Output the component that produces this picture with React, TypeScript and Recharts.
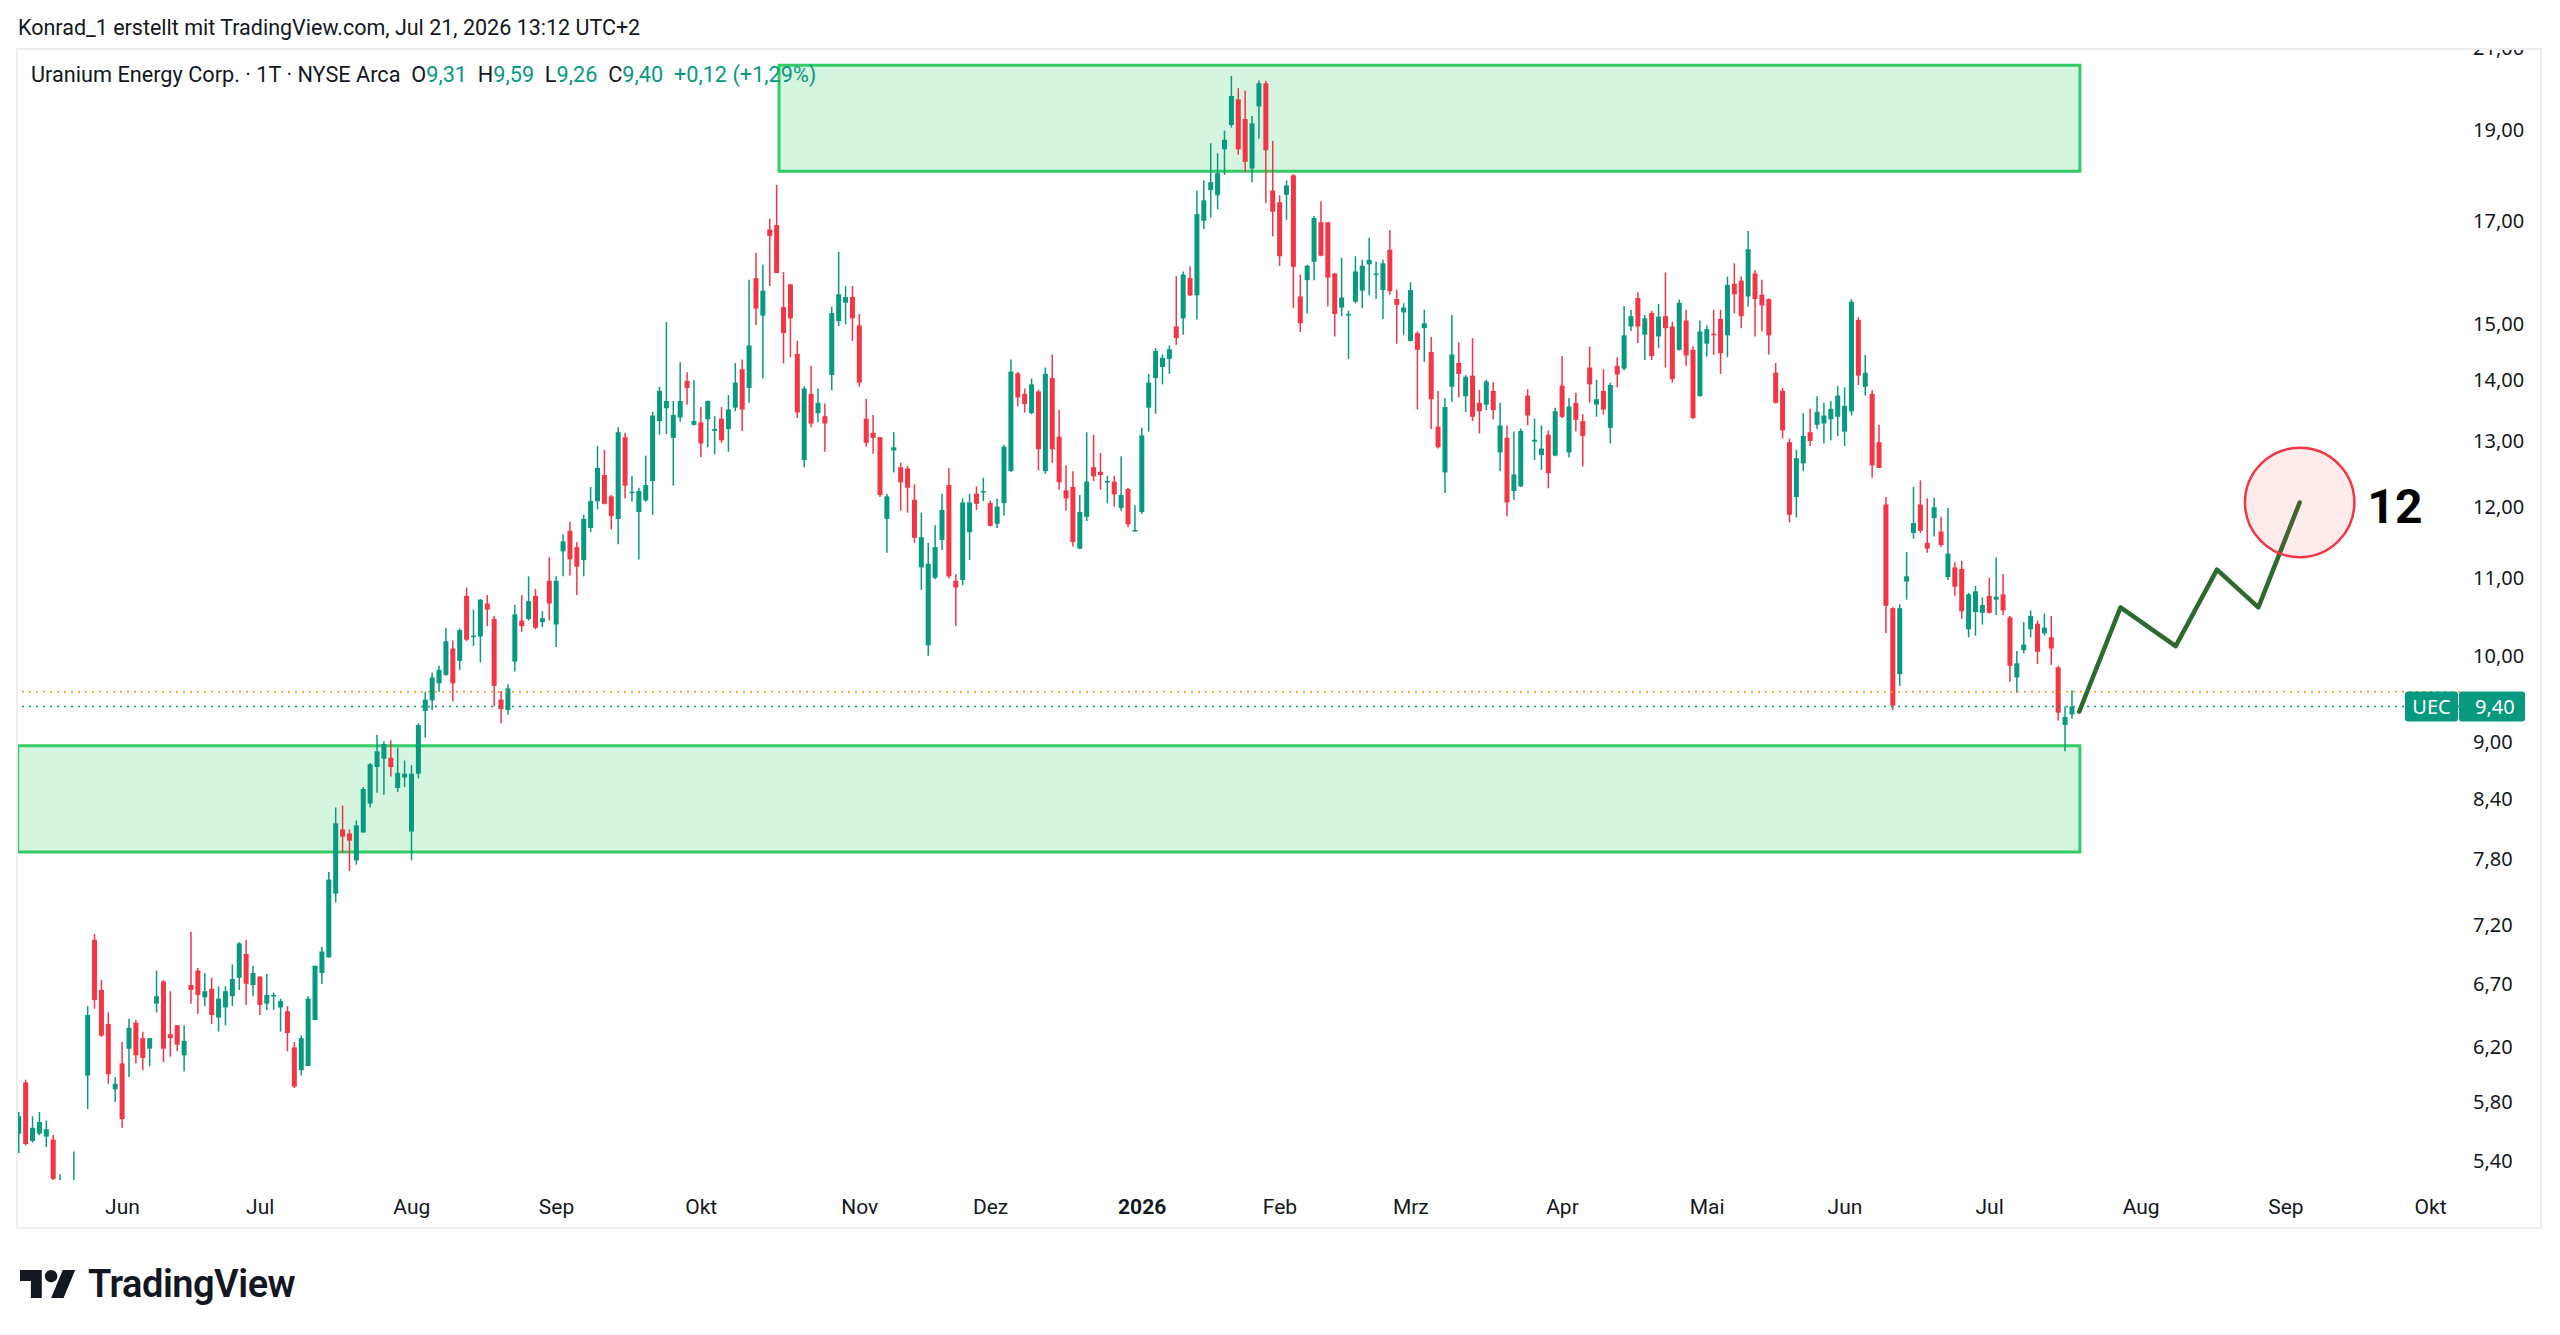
import {
  ComposedChart,
  XAxis,
  YAxis,
  Bar,
  Line,
  ReferenceArea,
  ReferenceLine,
  ReferenceDot,
} from "recharts";

// Uranium Energy Corp. (UEC), daily candles, first bar = index -15 (index 0 = first June 2025 session)
const FIRST_BAR = -15;

const OPEN = [
  5.58, 5.94, 5.53, 5.58, 5.56, 5.54, 5.15, 5.2, 5.1, 5.22,
  5.99, 7.07, 6.65, 6.38, 5.89, 6.08, 6.19, 6.39, 6.27, 6.19,
  6.54, 6.72, 6.3, 6.37, 6.14, 6.69, 6.81, 6.59, 6.66, 6.43,
  6.51, 6.6, 6.75, 6.95, 6.69, 6.76, 6.54, 6.6, 6.51, 6.48,
  6.2, 6.03, 6.06, 6.41, 6.79, 6.92, 7.48, 8.09, 8.05, 7.79,
  8.06, 8.35, 8.73, 8.82, 8.83, 8.51, 8.62, 8.07, 8.66, 9.35,
  9.47, 9.67, 9.77, 10.09, 9.94, 10.76, 10.24, 10.24, 10.66, 10.46,
  9.48, 9.36, 9.93, 10.44, 10.46, 10.76, 10.42, 10.96, 10.39, 11.36,
  11.65, 11.42, 11.24, 11.69, 12.08, 12.47, 12.15, 11.82, 13.06, 12.2,
  11.92, 12.09, 12.38, 13.32, 13.53, 13.05, 13.38, 13.99, 13.26, 13.3,
  13.35, 13.16, 13.36, 13.19, 13.54, 14.19, 13.87, 15.86, 15.15, 16.83,
  16.92, 15.31, 15.74, 14.46, 12.7, 13.77, 13.45, 13.4, 14.09, 15.05,
  15.39, 15.5, 14.97, 13.36, 13.13, 13.06, 11.82, 12.85, 12.59, 12.57,
  12.1, 11.14, 10.13, 11.0, 11.52, 12.32, 10.96, 10.97, 11.63, 12.19,
  12.21, 12.05, 11.75, 12.05, 12.53, 14.12, 13.77, 13.45, 13.81, 12.53,
  14.04, 13.07, 12.24, 12.29, 11.4, 11.85, 12.59, 12.52, 12.36, 12.37,
  11.98, 12.26, 11.65, 11.92, 13.54, 14.04, 14.23, 14.37, 14.95, 15.1,
  15.86, 15.53, 17.01, 17.66, 17.55, 18.56, 19.12, 19.73, 19.26, 18.13,
  19.56, 20.12, 17.65, 17.4, 17.56, 17.98, 15.51, 15.82, 16.18, 16.98,
  16.98, 15.95, 15.3, 15.17, 15.41, 15.62, 16.13, 15.94, 15.63, 16.42,
  15.46, 15.21, 14.69, 14.83, 14.92, 14.49, 13.23, 12.51, 13.89, 14.3,
  13.73, 14.08, 13.62, 13.59, 13.82, 12.82, 13.05, 12.23, 12.3, 13.74,
  12.99, 12.78, 13.1, 12.77, 13.91, 12.82, 13.62, 13.32, 14.22, 13.59,
  13.82, 13.21, 14.25, 14.2, 14.95, 15.48, 14.8, 15.2, 14.77, 15.14,
  14.95, 14.53, 15.06, 14.53, 13.73, 14.64, 14.82, 15.09, 14.79, 15.75,
  15.81, 15.51, 15.95, 15.54, 15.46, 14.13, 13.82, 12.98, 12.14, 12.65,
  13.14, 13.26, 13.28, 13.35, 13.39, 13.15, 13.48, 15.07, 13.89, 13.77,
  12.98, 12.03, 10.6, 9.78, 10.95, 11.62, 12.03, 11.48, 11.83, 11.64,
  11.01, 11.14, 11.12, 10.33, 10.55, 10.54, 10.76, 10.71, 10.78, 10.48,
  9.74, 10.07, 10.33, 10.4, 10.28, 10.23, 9.86, 9.19, 9.31,
];

const HIGH = [
  5.73, 5.96, 5.7, 5.73, 5.67, 5.57, 5.31, 5.25, 5.46, 5.26,
  6.52, 7.12, 6.73, 6.47, 5.98, 6.24, 6.42, 6.41, 6.32, 6.27,
  6.81, 6.73, 6.64, 6.37, 6.37, 7.14, 6.83, 6.79, 6.75, 6.68,
  6.68, 6.86, 7.05, 7.07, 6.85, 6.76, 6.78, 6.63, 6.58, 6.52,
  6.24, 6.29, 6.6, 6.85, 7.01, 7.68, 8.31, 8.33, 8.09, 8.18,
  8.52, 8.77, 9.08, 9.01, 9.02, 8.94, 8.8, 8.75, 9.21, 9.57,
  9.8, 9.88, 10.35, 10.19, 10.34, 10.87, 10.58, 10.72, 10.77, 10.5,
  9.58, 9.66, 10.64, 10.77, 11.02, 10.85, 10.56, 11.28, 11.02, 11.6,
  11.78, 11.49, 11.88, 12.29, 12.92, 12.86, 12.17, 13.22, 13.13, 12.46,
  12.28, 12.77, 13.47, 13.89, 15.03, 13.65, 14.31, 14.14, 14.0, 13.55,
  13.66, 13.4, 13.55, 13.75, 14.3, 14.36, 15.83, 16.36, 16.12, 17.05,
  17.77, 15.98, 15.75, 14.69, 13.9, 14.25, 13.86, 13.61, 15.32, 16.38,
  15.71, 15.71, 15.18, 13.69, 13.42, 13.06, 12.19, 13.14, 12.66, 12.61,
  12.33, 11.91, 11.48, 11.73, 12.19, 12.58, 11.05, 12.12, 12.19, 12.3,
  12.43, 12.09, 12.12, 12.94, 14.36, 14.14, 13.86, 14.03, 13.84, 14.22,
  14.45, 13.5, 12.62, 12.53, 12.17, 13.14, 13.1, 12.81, 12.46, 12.46,
  12.76, 12.28, 12.02, 13.21, 14.11, 14.56, 14.45, 14.61, 15.9, 15.99,
  16.09, 17.65, 17.87, 18.7, 18.47, 18.99, 20.3, 20.0, 19.94, 19.33,
  20.19, 20.18, 18.75, 17.55, 17.87, 18.01, 15.93, 16.12, 17.11, 17.42,
  16.98, 15.96, 16.26, 15.24, 16.29, 16.22, 16.66, 16.18, 16.22, 16.82,
  15.64, 15.38, 15.78, 14.86, 15.26, 14.76, 13.82, 13.7, 15.16, 14.66,
  14.09, 14.74, 13.84, 14.01, 13.97, 13.62, 13.25, 13.15, 13.2, 13.85,
  13.36, 13.25, 13.17, 13.54, 14.42, 13.7, 13.79, 13.43, 14.59, 14.01,
  14.19, 13.96, 14.4, 15.33, 15.26, 15.59, 15.16, 15.24, 15.37, 15.97,
  15.04, 15.45, 15.26, 14.59, 15.06, 14.97, 15.26, 15.26, 15.89, 16.15,
  15.89, 16.8, 16.02, 15.83, 15.47, 14.3, 13.87, 13.04, 12.86, 13.45,
  13.52, 13.73, 13.62, 13.65, 13.9, 13.88, 15.46, 15.12, 14.44, 13.83,
  13.26, 12.14, 10.61, 10.65, 11.35, 12.29, 12.39, 12.12, 12.13, 11.85,
  11.98, 11.21, 11.23, 10.8, 10.89, 10.74, 11.0, 11.28, 11.05, 10.5,
  10.06, 10.42, 10.57, 10.44, 10.53, 10.5, 9.88, 9.4, 9.59,
];

const LOW = [
  5.45, 5.5, 5.52, 5.57, 5.49, 5.27, 5.08, 5.05, 5.05, 5.1,
  5.75, 6.5, 6.28, 5.93, 5.8, 5.62, 5.98, 6.08, 6.03, 6.06,
  6.47, 6.09, 6.13, 6.17, 6.02, 6.54, 6.46, 6.52, 6.38, 6.32,
  6.37, 6.52, 6.65, 6.53, 6.6, 6.45, 6.49, 6.49, 6.32, 6.17,
  5.9, 5.99, 6.06, 6.41, 6.7, 6.92, 7.4, 7.86, 7.69, 7.75,
  8.06, 8.31, 8.46, 8.44, 8.63, 8.47, 8.52, 7.79, 8.61, 9.05,
  9.36, 9.57, 9.76, 9.46, 9.83, 10.18, 10.12, 9.92, 10.37, 9.4,
  9.21, 9.31, 9.81, 10.3, 10.44, 10.33, 10.36, 10.44, 10.11, 11.02,
  11.03, 10.77, 11.02, 11.63, 11.96, 12.03, 11.67, 11.46, 12.12, 12.07,
  11.25, 12.07, 11.88, 13.1, 13.11, 12.31, 13.31, 13.59, 13.25, 12.75,
  12.9, 12.79, 12.97, 12.83, 13.48, 13.16, 13.62, 14.98, 14.03, 15.71,
  15.96, 14.29, 14.4, 13.37, 12.59, 13.22, 13.3, 12.83, 13.83, 14.96,
  14.99, 14.69, 13.89, 12.91, 12.8, 12.14, 11.34, 12.51, 11.94, 11.91,
  11.48, 10.84, 10.0, 10.98, 11.38, 10.99, 10.37, 10.9, 11.24, 11.95,
  12.08, 11.71, 11.69, 11.87, 12.52, 13.56, 13.46, 13.43, 12.54, 12.49,
  12.66, 12.25, 11.94, 11.43, 11.39, 11.79, 12.38, 12.25, 12.05, 12.0,
  11.93, 11.7, 11.64, 11.89, 13.15, 13.44, 13.93, 14.11, 14.62, 14.8,
  15.52, 15.08, 16.84, 17.08, 17.25, 17.99, 19.06, 18.44, 18.05, 17.83,
  18.8, 17.38, 16.69, 16.1, 17.03, 15.29, 14.85, 15.19, 15.82, 16.29,
  15.32, 14.77, 15.14, 14.37, 15.38, 15.29, 15.53, 15.46, 15.09, 15.54,
  14.64, 14.8, 14.68, 13.51, 14.32, 13.19, 12.88, 12.2, 13.64, 13.71,
  13.47, 13.32, 13.12, 13.5, 13.35, 12.53, 11.86, 12.1, 12.29, 13.25,
  12.7, 12.55, 12.27, 12.76, 13.37, 12.74, 13.15, 12.6, 13.62, 13.39,
  13.43, 12.96, 13.88, 14.17, 14.87, 14.65, 14.35, 14.35, 14.56, 14.22,
  13.96, 14.52, 14.25, 13.35, 13.73, 14.41, 14.44, 14.11, 14.4, 15.19,
  14.92, 15.32, 14.77, 14.86, 14.45, 13.61, 13.04, 11.77, 11.84, 12.53,
  12.92, 13.19, 12.96, 13.01, 13.08, 12.92, 13.41, 13.92, 13.74, 12.43,
  12.58, 10.28, 9.36, 9.64, 10.71, 11.54, 11.62, 11.34, 11.57, 11.42,
  10.97, 10.76, 10.46, 10.23, 10.25, 10.39, 10.53, 10.51, 10.51, 9.69,
  9.56, 10.03, 10.23, 9.9, 10.25, 9.89, 9.24, 8.9, 9.26,
];

const CLOSE = [
  5.7, 5.51, 5.62, 5.66, 5.61, 5.28, 5.22, 5.15, 5.24, 5.2,
  6.45, 6.57, 6.29, 6.0, 5.93, 5.68, 6.35, 6.14, 6.12, 6.27,
  6.6, 6.19, 6.27, 6.22, 6.25, 6.65, 6.61, 6.64, 6.45, 6.58,
  6.64, 6.74, 7.04, 6.7, 6.79, 6.53, 6.61, 6.61, 6.56, 6.31,
  5.91, 6.27, 6.58, 6.85, 6.97, 7.61, 8.15, 8.02, 7.98, 8.13,
  8.5, 8.76, 8.9, 8.98, 8.73, 8.67, 8.66, 8.66, 9.19, 9.48,
  9.74, 9.83, 10.18, 9.67, 10.32, 10.2, 10.25, 10.71, 10.58, 9.64,
  9.37, 9.61, 10.52, 10.37, 10.69, 10.35, 10.47, 10.66, 10.96, 11.5,
  11.25, 11.15, 11.82, 12.08, 12.58, 12.04, 11.86, 13.14, 12.31, 12.22,
  12.23, 12.32, 13.41, 13.82, 13.65, 13.42, 13.65, 13.87, 13.32, 12.96,
  13.65, 13.19, 13.01, 13.51, 13.96, 13.51, 14.61, 15.28, 15.62, 16.7,
  15.96, 14.83, 15.1, 13.46, 13.86, 13.28, 13.62, 13.28, 15.2, 15.55,
  15.5, 15.1, 13.96, 12.97, 13.05, 12.17, 12.15, 12.9, 12.36, 12.28,
  11.55, 11.56, 11.19, 11.42, 11.95, 11.02, 10.87, 12.06, 12.06, 12.04,
  12.23, 11.72, 12.0, 12.91, 14.15, 13.71, 13.6, 13.93, 12.87, 14.11,
  12.87, 12.36, 12.12, 11.49, 11.92, 12.37, 12.45, 12.47, 12.38, 12.18,
  12.17, 11.74, 11.66, 13.09, 13.96, 14.51, 14.39, 14.54, 14.74, 15.93,
  15.53, 17.15, 17.44, 17.83, 18.03, 18.78, 19.81, 18.56, 18.28, 19.16,
  20.12, 18.54, 17.2, 16.29, 17.76, 16.08, 15.01, 16.1, 17.07, 16.3,
  15.87, 15.18, 15.49, 15.18, 15.99, 16.1, 16.22, 15.95, 16.15, 15.61,
  15.35, 15.3, 15.63, 14.53, 15.01, 13.68, 12.9, 13.55, 14.45, 14.11,
  14.06, 13.39, 13.48, 13.98, 13.5, 13.25, 12.06, 12.48, 13.16, 13.41,
  13.02, 12.88, 12.5, 13.48, 13.39, 13.56, 13.34, 13.08, 13.93, 13.68,
  13.51, 13.92, 14.1, 14.79, 15.14, 14.95, 15.1, 14.42, 15.13, 14.92,
  14.02, 15.39, 14.43, 13.37, 14.86, 14.9, 14.79, 14.47, 15.73, 15.55,
  15.14, 16.43, 15.46, 15.34, 14.79, 13.62, 13.17, 11.88, 12.73, 13.08,
  13.0, 13.47, 13.41, 13.52, 13.74, 13.57, 15.41, 14.08, 14.13, 12.62,
  12.58, 10.63, 9.41, 10.6, 11.02, 11.76, 11.65, 11.4, 11.99, 11.45,
  11.33, 10.88, 10.56, 10.78, 10.82, 10.64, 10.54, 10.75, 10.57, 9.88,
  9.91, 10.14, 10.5, 10.05, 10.35, 10.09, 9.33, 9.28, 9.4,
];

// hand-drawn projection path (bar index, price)
const PROJ_X = [284, 290, 298, 304, 310, 316];
const PROJ_Y = [9.34, 10.61, 10.12, 11.11, 10.61, 12.06];

// rectangles drawn on the chart
const UPPER_ZONE = { x1: 95.3, x2: 284.1, y1: 18.07, y2: 20.57 };
const LOWER_ZONE = { x1: -15.2, x2: 284.1, y1: 7.87, y2: 8.96 };

const AFTER_HOURS = 9.57;
const TARGET = 12;

const MONTH_TICKS = [0, 20, 42, 63, 84, 107, 126, 148, 168, 187, 209, 230, 250, 271, 293, 314, 335];
const MONTH_LABELS = ["Jun", "Jul", "Aug", "Sep", "Okt", "Nov", "Dez", "2026", "Feb", "Mrz", "Apr", "Mai", "Jun", "Jul", "Aug", "Sep", "Okt"];
const PRICE_TICKS = [5.4, 5.8, 6.2, 6.7, 7.2, 7.8, 8.4, 9, 10, 11, 12, 13, 14, 15, 17, 19, 21];

const X_DOMAIN = [-15.45, 339.27];
const Y_DOMAIN = [5.273, 20.98];

const GREEN = "#089981";
const RED = "#f23645";
const TEXT = "#131722";

const fmt = (v: number) => v.toFixed(2).replace(".", ",");

const bars = OPEN.map((o, k) => ({
  i: FIRST_BAR + k,
  o,
  h: HIGH[k],
  l: LOW[k],
  c: CLOSE[k],
  range: [LOW[k], HIGH[k]],
}));
const projection = PROJ_X.map((i, k) => ({ i, proj: PROJ_Y[k] }));
const data = [...bars, ...projection];

const last = bars[bars.length - 1];
const prev = bars[bars.length - 2];
const change = last.c - prev.c;
const changePct = (change / prev.c) * 100;

const Candle = (props: any) => {
  const { x, y, width, height, payload } = props;
  if (!payload || payload.h == null || x == null || y == null) return null;
  const { o, h, l, c } = payload;
  const lh = Math.log(h);
  const span = lh - Math.log(l);
  const py = (v: number) => (span > 0 ? y + (height * (lh - Math.log(v))) / span : y);
  const cx = x + width / 2;
  const color = c >= o ? GREEN : RED;
  const top = py(Math.max(o, c));
  const bot = py(Math.min(o, c));
  const bw = 5;
  return (
    <g>
      <line x1={cx} x2={cx} y1={y} y2={y + height} stroke={color} strokeWidth={1.5} />
      <rect x={cx - bw / 2} y={top} width={bw} height={Math.max(bot - top, 1.5)} fill={color} />
    </g>
  );
};

const MonthTick = ({ x, y, payload }: any) => {
  const label = MONTH_LABELS[MONTH_TICKS.indexOf(payload.value)];
  return (
    <text
      x={x}
      y={y + 25}
      dy="0.35em"
      textAnchor="middle"
      fontSize={21}
      fontFamily="Roboto, sans-serif"
      fontWeight={label === "2026" ? 700 : 400}
      fill={TEXT}
    >
      {label}
    </text>
  );
};

const PriceTick = ({ x, y, payload }: any) => (
  <text x={x} y={y} dy="0.35em" textAnchor="start" fontSize={20} fontFamily="'Noto Sans', sans-serif" fill={TEXT}>
    {fmt(payload.value)}
  </text>
);

const UecTag = ({ viewBox }: any) => {
  if (!viewBox) return null;
  const r = viewBox.x + viewBox.width;
  const y = viewBox.y;
  return (
    <g fontFamily="'Noto Sans', sans-serif" fontSize={20}>
      <rect x={r - 55} y={y - 15} width={53} height={30} rx={3} fill={GREEN} />
      <rect x={r - 1} y={y - 15} width={66} height={30} rx={3} fill={GREEN} />
      <text x={r - 28.5} y={y} dy="0.35em" textAnchor="middle" fill="#fff">UEC</text>
      <text x={r + 15} y={y} dy="0.35em" textAnchor="start" fill="#fff">{fmt(last.c)}</text>
    </g>
  );
};

const TargetLabel = ({ viewBox }: any) => {
  if (!viewBox) return null;
  return (
    <text
      x={viewBox.x + viewBox.width + 13}
      y={viewBox.y + viewBox.height / 2 + 4}
      dy="0.35em"
      fontSize={48}
      fontWeight={700}
      fontFamily="Roboto, sans-serif"
      fill="#000"
    >
      {TARGET}
    </text>
  );
};

const TvLogo = () => (
  <div style={{ position: "absolute", left: 20, top: 1262, height: 44, display: "flex", alignItems: "center", gap: 12 }}>
    <svg width={56} height={34} viewBox="0 3 36 20">
      <path d="M14 22H7V11H0V4h14v18zM28 22h-8l7.5-18h8L28 22z" fill={TEXT} />
      <circle cx={20} cy={8} r={4} fill={TEXT} />
    </svg>
    <span style={{ fontFamily: "Roboto, sans-serif", fontWeight: 600, fontSize: 38, color: TEXT, letterSpacing: -0.5 }}>
      TradingView
    </span>
  </div>
);

const legendVal = { color: GREEN };

const App = () => (
  <div style={{ position: "relative", width: 2560, height: 1335, background: "#fff", overflow: "hidden" }}>
    <style>{"body{margin:0}"}</style>
    <ComposedChart
      width={2560}
      height={1335}
      data={data}
      margin={{ top: 49, right: 20, bottom: 125, left: 16 }}
      style={{ position: "absolute", left: 0, top: 0 }}
    >
      <XAxis
        dataKey="i"
        type="number"
        domain={X_DOMAIN}
        allowDataOverflow
        ticks={MONTH_TICKS}
        interval={0}
        height={30}
        axisLine={false}
        tickLine={false}
        tickSize={0}
        tick={<MonthTick />}
      />
      <YAxis
        type="number"
        scale="log"
        domain={Y_DOMAIN}
        allowDataOverflow
        orientation="right"
        ticks={PRICE_TICKS}
        interval={0}
        width={80}
        axisLine={false}
        tickLine={false}
        tickSize={0}
        tickMargin={13}
        tick={<PriceTick />}
      />
      <ReferenceArea {...UPPER_ZONE} fill="#2fcf6b" fillOpacity={0.2} stroke="#33cc66" strokeWidth={3} />
      <ReferenceArea {...LOWER_ZONE} fill="#2fcf6b" fillOpacity={0.2} stroke="#33cc66" strokeWidth={3} />
      <ReferenceLine y={AFTER_HOURS} stroke="#ff9800" strokeWidth={1.5} strokeDasharray="2 5" />
      <ReferenceLine
        y={last.c}
        stroke={GREEN}
        strokeWidth={1.5}
        strokeDasharray="2 5"
        label={{ content: (p: any) => <UecTag viewBox={p.viewBox} /> }}
      />
      <Bar dataKey="range" barSize={7} shape={<Candle />} isAnimationActive={false} />
      <ReferenceDot
        x={PROJ_X[PROJ_X.length - 1]}
        y={PROJ_Y[PROJ_Y.length - 1]}
        r={54.7}
        fill={RED}
        fillOpacity={0.1}
        stroke={RED}
        strokeWidth={2.5}
        label={{ content: (p: any) => <TargetLabel viewBox={p.viewBox} /> }}
      />
      <Line
        dataKey="proj"
        type="linear"
        stroke="#2e6930"
        strokeWidth={4.5}
        strokeLinejoin="round"
        strokeLinecap="round"
        dot={false}
        activeDot={false}
        isAnimationActive={false}
      />
    </ComposedChart>

    {/* hides the upper half of the clipped 21,00 label */}
    <div style={{ position: "absolute", left: 2400, top: 0, width: 160, height: 48, background: "#fff" }} />
    <div
      style={{
        position: "absolute",
        left: 16,
        top: 48,
        width: 2526,
        height: 1181,
        border: "2px solid #eceef2",
        boxSizing: "border-box",
        pointerEvents: "none",
      }}
    />

    <div
      style={{
        position: "absolute",
        left: 18,
        top: 17,
        fontFamily: "Roboto, sans-serif",
        fontSize: 21.5,
        lineHeight: "22px",
        color: TEXT,
        whiteSpace: "nowrap",
      }}
    >
      Konrad_1 erstellt mit TradingView.com, Jul 21, 2026 13:12 UTC+2
    </div>

    <div
      style={{
        position: "absolute",
        left: 31,
        top: 64,
        fontFamily: "Roboto, sans-serif",
        fontSize: 21.7,
        lineHeight: "22px",
        color: TEXT,
        whiteSpace: "pre",
      }}
    >
      {"Uranium Energy Corp. · 1T · NYSE Arca  O"}
      <span style={legendVal}>{fmt(last.o)}</span>
      {"  H"}
      <span style={legendVal}>{fmt(last.h)}</span>
      {"  L"}
      <span style={legendVal}>{fmt(last.l)}</span>
      {"  C"}
      <span style={legendVal}>{fmt(last.c)}</span>
      <span style={legendVal}>{`  +${fmt(change)} (+${fmt(changePct)}%)`}</span>
    </div>

    <TvLogo />
  </div>
);

export default App;
